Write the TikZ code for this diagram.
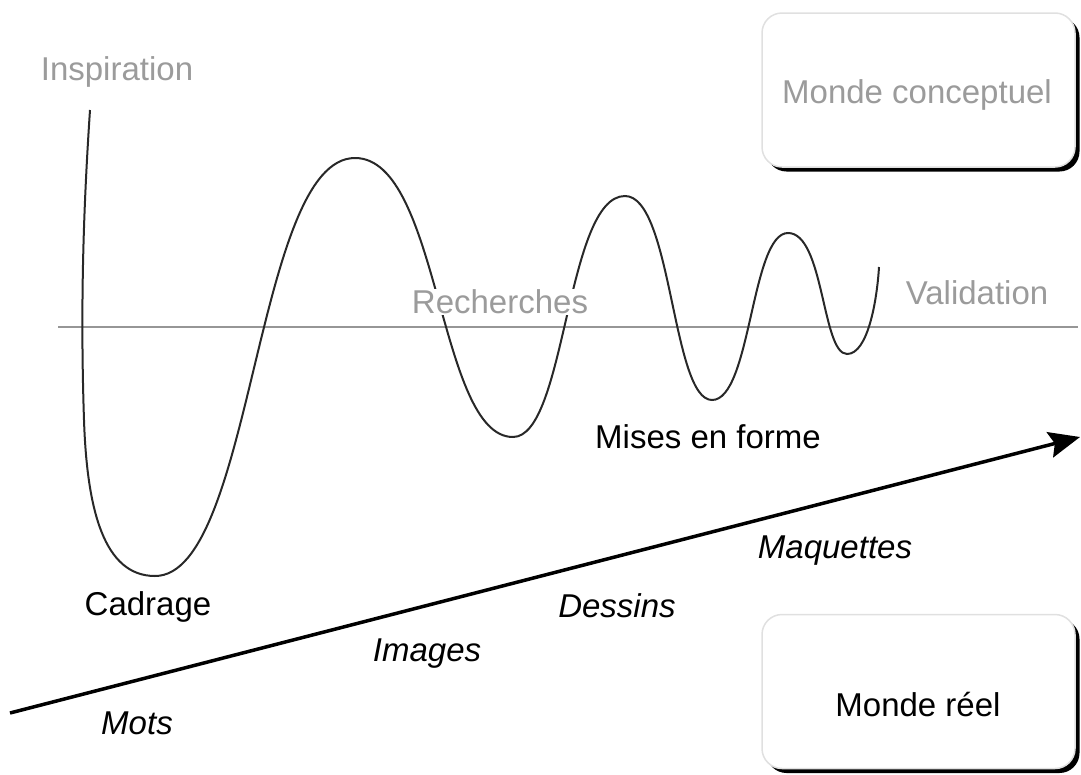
\documentclass[tikz,border=0pt]{standalone}
\usepackage{fontspec}
\setmainfont{Liberation Sans}
\usetikzlibrary{arrows.meta,shadows}
\definecolor{txtgray}{RGB}{155,155,155}
\definecolor{linegray}{RGB}{150,150,150}
\definecolor{curvecol}{RGB}{40,40,40}
\tikzset{
  lbl/.style={font=\fontsize{33}{40}\selectfont, inner sep=2pt},
  glbl/.style={lbl, text=txtgray},
  ilbl/.style={lbl, font=\fontsize{33}{40}\selectfont\itshape},
  worldbox/.style={draw=black!12, line width=1.5pt, fill=white, rounded corners=20pt,
     minimum width=313pt, minimum height=154pt, inner sep=0pt,
     drop shadow={shadow xshift=4.5pt, shadow yshift=-4.5pt, fill=black, opacity=1}},
  axisline/.style={draw=linegray, line width=2.5pt},
  wave/.style={draw=curvecol, line width=2pt},
  mainarrow/.style={draw=black, line width=3.5pt, -{Stealth[length=31pt,width=26pt,inset=5pt]}}
}
\begin{document}
\begin{tikzpicture}[x=1pt,y=-1pt]
\useasboundingbox (0,0) rectangle (1081,774);
% horizontal line
\coordinate (hl) at (58,327);
\coordinate (hr) at (1078,327);
\draw[axisline] (hl) -- (hr);
% wave
\coordinate (w0) at (90,110);
\coordinate (w1) at (84,420);
\coordinate (w2) at (155,576);
\coordinate (w3) at (355,158);
\coordinate (w4) at (513,437);
\coordinate (w5) at (625,196);
\coordinate (w6) at (712,400);
\coordinate (w7) at (788,233);
\coordinate (w8) at (847,354);
\coordinate (w9) at (879,267);
\draw[wave] (w0) .. controls (84,200) and (80,300) .. (w1)
  .. controls (87,510) and (104,576) .. (w2)
  .. controls (253,576) and (255,158) .. (w3)
  .. controls (440,158) and (438,437) .. (w4)
  .. controls (566,437) and (566,196) .. (w5)
  .. controls (672,196) and (672,400) .. (w6)
  .. controls (751,400) and (751,233) .. (w7)
  .. controls (824,233) and (822,354) .. (w8)
  .. controls (868,354) and (877,300) .. (w9);
% arrow
\coordinate (a0) at (10,713);
\coordinate (a1) at (1080,437);
\draw[mainarrow] (a0) -- (a1);
% labels
\node[glbl] (insp) at (117,72) {Inspiration};
\node[glbl, fill=white, inner sep=1pt] (rech) at (500,302) {Recherches};
\node[glbl] (valid) at (977,293) {Validation};
\node[lbl] (mises) at (708,437) {Mises en forme};
\node[lbl] (cadr) at (148,607) {Cadrage};
\node[ilbl] (maq) at (835,551) {Maquettes};
\node[ilbl] (dess) at (617,606) {Dessins};
\node[ilbl] (img) at (427,654) {Images};
\node[ilbl] (mots) at (137,723) {Mots};
% boxes
\node[worldbox] (mc) at (918.5,90) {};
\node[glbl] (mct) at (917,95) {Monde conceptuel};
\node[worldbox] (mr) at (918.5,691.5) {};
\node[lbl] (mrt) at (918,704) {Monde réel};
\end{tikzpicture}
\end{document}
